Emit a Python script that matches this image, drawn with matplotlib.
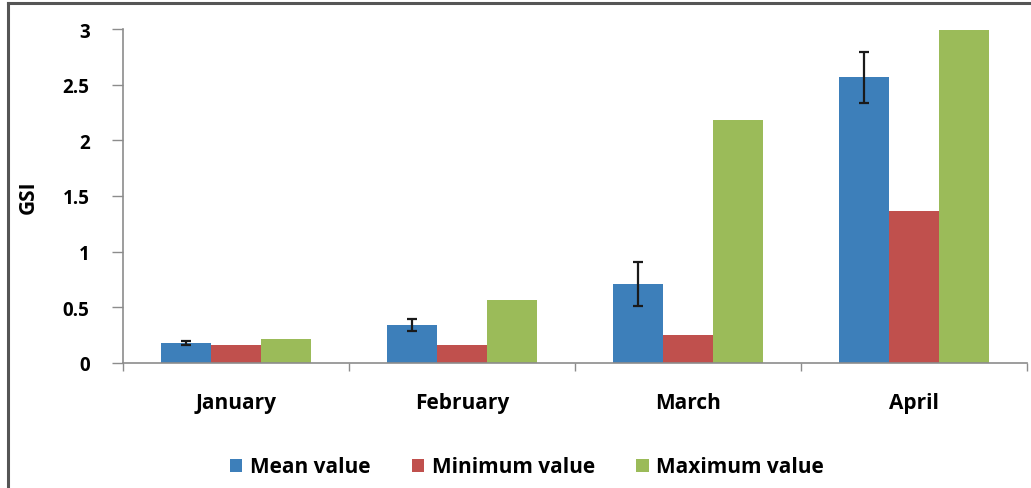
import matplotlib
matplotlib.use("Agg")
import matplotlib.pyplot as plt
import numpy as np
from matplotlib.patches import Patch
from matplotlib.lines import Line2D

months = ["January", "February", "March", "April"]
mean_value = [0.18, 0.34, 0.71, 2.565]
mean_err = [0.02, 0.055, 0.20, 0.23]
min_value = [0.165, 0.165, 0.255, 1.365]
max_value = [0.22, 0.57, 2.18, 2.99]
y_ticks = [0, 0.5, 1, 1.5, 2, 2.5, 3]
y_tick_labels = ["0", "0.5", "1", "1.5", "2", "2.5", "3"]

series_names = ["Mean value", "Minimum value", "Maximum value"]
colors = ["#3D7FBA", "#C0504D", "#9BBB59"]

plt.rcParams["font.family"] = ["Open Sans", "DejaVu Sans"]
plt.rcParams["font.weight"] = "bold"
FS_TICK = 13.5
FS_CAT = 15

fig = plt.figure(figsize=(10.31, 4.89), dpi=100)
ax = fig.add_axes([123 / 1031, 1 - 364 / 489, (1027 - 123) / 1031, (364 - 30) / 489])

x = np.arange(len(months))
w = 2 / 9
ax.bar(x - w, mean_value, w, color=colors[0], zorder=2)
ax.bar(x, min_value, w, color=colors[1], zorder=2)
ax.bar(x + w, max_value, w, color=colors[2], zorder=2)
ax.errorbar(x - w, mean_value, yerr=mean_err, fmt="none", ecolor="#1a1a1a",
            elinewidth=1.6, capsize=3.8, capthick=1.6, zorder=3)

ax.set_xlim(-0.5, len(months) - 0.5)
ax.set_ylim(0, 3)
ax.set_yticks(y_ticks)
ax.set_yticklabels(y_tick_labels, fontsize=FS_TICK, fontweight="bold")
ax.set_xticks(x)
ax.set_xticklabels(months, fontsize=FS_CAT, fontweight="bold")
ax.tick_params(axis="x", length=0, pad=21)
ax.tick_params(axis="y", length=8, width=1, color="#8c8c8c", pad=16)
# category separators on the x axis
ax.set_xticks(np.arange(len(months) + 1) - 0.5, minor=True)
ax.tick_params(axis="x", which="minor", length=6, width=1, color="#8c8c8c")

for side in ["top", "right"]:
    ax.spines[side].set_visible(False)
for side in ["left", "bottom"]:
    ax.spines[side].set_color("#8c8c8c")
    ax.spines[side].set_linewidth(1.2)

ax.set_ylabel("GSI", fontsize=FS_CAT, fontweight="bold")
ax.yaxis.set_label_coords(-84 / 904, 0.5)

handles = [Patch(facecolor=c, edgecolor="none") for c in colors]
fig.legend(handles, series_names, loc="center", bbox_to_anchor=(527 / 1031, 1 - 468 / 489),
           ncol=3, frameon=False, handlelength=0.6, handleheight=0.6,
           handletextpad=0.35, columnspacing=2.0, prop={"weight": "bold", "size": FS_CAT})

# outer frame lines (left and top)
fig.add_artist(Line2D([7.5 / 1031, 7.5 / 1031], [0, 1 - 3.5 / 489], color="#555555", lw=2.2))
fig.add_artist(Line2D([7.5 / 1031, 1], [1 - 3.5 / 489, 1 - 3.5 / 489], color="#555555", lw=2.2))

fig.savefig("out.png", dpi=100)
